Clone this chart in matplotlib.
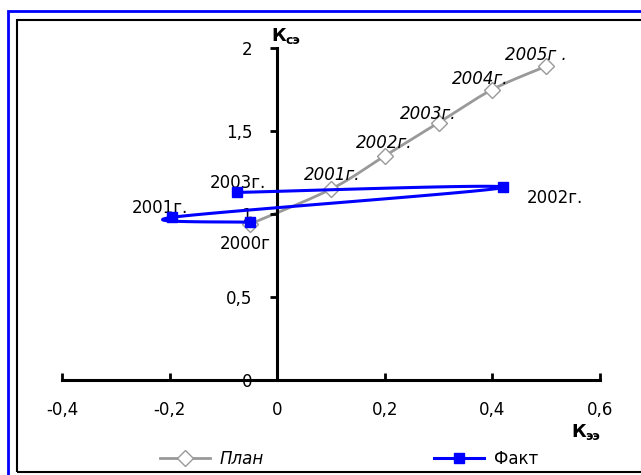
import numpy as np
import matplotlib
matplotlib.use('Agg')
import matplotlib.pyplot as plt
from matplotlib.patches import Rectangle
from matplotlib.lines import Line2D

plt.rcParams['font.family'] = ['DejaVu Sans']

# План (plan), 2000-2005
plan_x = [-0.05, 0.10, 0.20, 0.30, 0.40, 0.50]
plan_y = [0.94, 1.15, 1.35, 1.55, 1.75, 1.89]
plan_labels = ['', '2001г.', '2002г.', '2003г.', '2004г.', '2005г .']

# Факт (fact), 2000-2003
fact_x = [-0.05, -0.195, 0.42, -0.075]
fact_y = [0.95, 0.98, 1.16, 1.13]
fact_labels = ['2000г', '2001г.', '2002г.', '2003г.']

x_ticks = [-0.4, -0.2, 0, 0.2, 0.4, 0.6]
y_ticks = [0, 0.5, 1, 1.5, 2]

FS = 12


def smooth(xs, ys, n=40):
    # Catmull-Rom curve through the points (like Excel's smoothed line)
    p = np.column_stack([xs, ys]).astype(float)
    p = np.vstack([p[0], p, p[-1]])
    out = []
    t = np.linspace(0, 1, n)[:, None]
    for i in range(1, len(p) - 2):
        p0, p1, p2, p3 = p[i - 1], p[i], p[i + 1], p[i + 2]
        seg = 0.5 * ((2 * p1) + (-p0 + p2) * t + (2 * p0 - 5 * p1 + 4 * p2 - p3) * t ** 2
                     + (-p0 + 3 * p1 - 3 * p2 + p3) * t ** 3)
        out.append(seg)
    out = np.vstack(out)
    return out[:, 0], out[:, 1]


def comma(v):
    return ('%g' % v).replace('.', ',')


def fx(px):
    return px / 641


def fy(py):
    return 1 - py / 475


fig = plt.figure(figsize=(6.41, 4.75), dpi=100)

# frames round the chart
fig.patches.append(Rectangle((fx(8), -0.1), 1.2, fy(11) + 0.1, transform=fig.transFigure,
                             fill=False, edgecolor='#0000ff', linewidth=2))
fig.patches.append(Rectangle((fx(17), fy(472)), 1.2, fy(20) - fy(472), transform=fig.transFigure,
                             fill=False, edgecolor='black', linewidth=1.5))

ax = fig.add_axes([fx(62), fy(380), fx(538), 332 / 475])
ax.set_xlim(-0.4, 0.6)
ax.set_ylim(0, 2)
ax.patch.set_visible(False)

for s in ['top', 'right']:
    ax.spines[s].set_visible(False)
ax.spines['left'].set_position(('data', 0))
ax.spines['left'].set_linewidth(2.2)
ax.spines['bottom'].set_linewidth(2.2)

ax.set_xticks(x_ticks)
ax.set_yticks(y_ticks)
ax.set_xticklabels([comma(v) for v in x_ticks], fontsize=FS)
ax.set_yticklabels([comma(v) for v in y_ticks], fontsize=FS)
ax.tick_params(axis='x', direction='in', length=5, width=2, pad=15)
ax.tick_params(axis='y', direction='out', length=5, width=2, pad=13)
ax.yaxis.set_zorder(2.5)

sx, sy = smooth(plan_x, plan_y)
ax.plot(sx, sy, color='#999999', linewidth=2, zorder=2)
ax.plot(plan_x, plan_y, linestyle='none', marker='D', markersize=8,
        markerfacecolor='white', markeredgecolor='#999999', markeredgewidth=1, zorder=2.2)

bx, by = smooth(fact_x, fact_y)
ax.plot(bx, by, color='#0000ff', linewidth=2.2, zorder=5)
ax.plot(fact_x, fact_y, linestyle='none', marker='s', markersize=7,
        color='#0000ff', zorder=6)

# labels of plan points (offsets in pixels)
plan_offsets = [(0, 0), (1, 14), (-1, 13), (-10, 9), (-12, 11), (-10, 11)]
for x, y, t, off in zip(plan_x, plan_y, plan_labels, plan_offsets):
    if t:
        ax.annotate(t, (x, y), xytext=off, textcoords='offset pixels',
                    ha='center', va='center', fontsize=FS, style='italic')

# labels of fact points
fact_offsets = [(-5, -22), (-12, 9), (52, -11), (1, 9)]
for x, y, t, off in zip(fact_x, fact_y, fact_labels, fact_offsets):
    ax.annotate(t, (x, y), xytext=off, textcoords='offset pixels',
                ha='center', va='center', fontsize=FS)

# axis names
fig.text(fx(271), fy(36), 'К', fontsize=13, fontweight='bold', ha='left', va='center')
fig.text(fx(285), fy(40), 'сэ', fontsize=9, fontweight='bold', ha='left', va='center')
fig.text(fx(571), fy(432), 'К', fontsize=13, fontweight='bold', ha='left', va='center')
fig.text(fx(585), fy(436), 'ээ', fontsize=9, fontweight='bold', ha='left', va='center')

handles = [
    Line2D([], [], color='#999999', linewidth=2, marker='D', markersize=8,
           markerfacecolor='white', markeredgecolor='#999999'),
    Line2D([], [], color='#0000ff', linewidth=2.2, marker='s', markersize=7),
]
leg = fig.legend(handles, ['План', 'Факт'], loc='center', bbox_to_anchor=(fx(349), fy(459)),
                 ncol=2, frameon=False, fontsize=FS, handlelength=3.0, handletextpad=0.6,
                 columnspacing=10.2)
leg.get_texts()[0].set_style('italic')

fig.savefig('out.png', dpi=100)
